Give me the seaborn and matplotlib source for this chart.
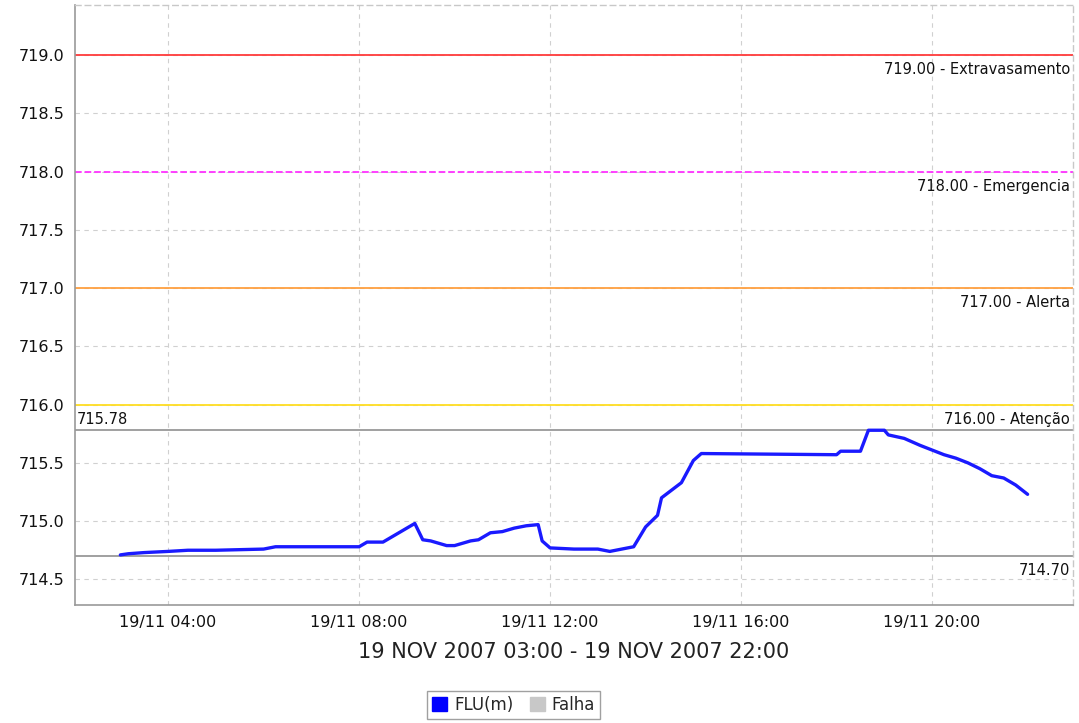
import pandas as pd
import numpy as np
import matplotlib
matplotlib.use("Agg")
import matplotlib.pyplot as plt
import matplotlib.dates as mdates
from matplotlib.patches import Patch
import seaborn as sns

# river level readings, 19 Nov 2007
times = ["03:00", "03:10", "03:30", "04:00", "04:25", "05:00", "06:00", "06:15",
         "07:00", "08:00", "08:10", "08:30", "09:10", "09:20", "09:30", "09:50",
         "10:00", "10:20", "10:30", "10:45", "11:00", "11:15", "11:30", "11:45",
         "11:50", "12:00", "12:30", "13:00", "13:15", "13:30", "13:45", "14:00",
         "14:15", "14:20", "14:45", "15:00", "15:10", "18:00", "18:05", "18:30",
         "18:40", "19:00", "19:05", "19:25", "19:45", "20:15", "20:30", "20:45",
         "21:00", "21:15", "21:30", "21:45", "22:00"]
levels = [714.71, 714.72, 714.73, 714.74, 714.75, 714.75, 714.76, 714.78,
          714.78, 714.78, 714.82, 714.82, 714.98, 714.84, 714.83, 714.79,
          714.79, 714.83, 714.84, 714.90, 714.91, 714.94, 714.96, 714.97,
          714.83, 714.77, 714.76, 714.76, 714.74, 714.76, 714.78, 714.95,
          715.05, 715.20, 715.33, 715.52, 715.58, 715.57, 715.60, 715.60,
          715.78, 715.78, 715.74, 715.71, 715.65, 715.57, 715.54, 715.50,
          715.45, 715.39, 715.37, 715.31, 715.23]

# reference levels
ref_values = [719.0, 718.0, 717.0, 716.0]
ref_labels = ["719.00 - Extravasamento", "718.00 - Emergencia", "717.00 - Alerta", "716.00 - Atenção"]
ref_colors = ["#ff3b3b", "#ff33ff", "#ffa040", "#ffdd22"]
ref_styles = ["-", "--", "-", "-"]
max_level = 715.78
min_level = 714.70

df = pd.DataFrame({"time": pd.to_datetime(["2007-11-19 " + t for t in times]),
                   "level": levels})

sns.set_style("white")
plt.rcParams["font.family"] = ["DejaVu Sans"]

fig = plt.figure(figsize=(10.79, 7.23), dpi=100)
ax = fig.add_axes([0.0695, 0.1632, 0.9249, 0.8299])

ax.grid(True, color="#d0d0d0", linestyle=(0, (4, 4)), linewidth=0.8)

for v, lab, c, ls in zip(ref_values, ref_labels, ref_colors, ref_styles):
    ax.axhline(v, color=c, linestyle=ls, linewidth=1.3, zorder=2)
    ax.annotate(lab, xy=(1, v), xycoords=("axes fraction", "data"),
                xytext=(-2, -5), textcoords="offset points",
                ha="right", va="top", fontsize=10.5, color="#111111")

ax.axhline(max_level, color="#999999", linewidth=1.3, zorder=2)
ax.annotate(f"{max_level:.2f}", xy=(0, max_level), xycoords=("axes fraction", "data"),
            xytext=(1, 2), textcoords="offset points",
            ha="left", va="bottom", fontsize=10.5, color="#111111")
ax.axhline(min_level, color="#999999", linewidth=1.3, zorder=2)
ax.annotate(f"{min_level:.2f}", xy=(1, min_level), xycoords=("axes fraction", "data"),
            xytext=(-2, -5), textcoords="offset points",
            ha="right", va="top", fontsize=10.5, color="#111111")

sns.lineplot(data=df, x="time", y="level", ax=ax, color="#1a1aff",
             linewidth=2.4, zorder=3)

ax.set_xlim(pd.Timestamp("2007-11-19 02:03"), pd.Timestamp("2007-11-19 22:57"))
ax.set_ylim(714.28, 719.43)
ax.set_yticks(np.arange(714.5, 719.01, 0.5))
ax.yaxis.set_major_formatter(matplotlib.ticker.FormatStrFormatter("%.1f"))
ax.xaxis.set_major_locator(mdates.HourLocator(byhour=[4, 8, 12, 16, 20]))
ax.xaxis.set_major_formatter(mdates.DateFormatter("%d/%m %H:%M"))

ax.tick_params(axis="both", which="major", labelsize=11.5, colors="#888888",
               labelcolor="#111111", length=4, width=0.8, direction="out")
ax.set_ylabel("")
ax.set_xlabel("19 NOV 2007 03:00 - 19 NOV 2007 22:00", fontsize=15,
              color="#222222", labelpad=8)

for s in ["top", "right"]:
    ax.spines[s].set_color("#c8c8c8")
    ax.spines[s].set_linestyle((0, (4, 3)))
    ax.spines[s].set_linewidth(1.0)
for s in ["left", "bottom"]:
    ax.spines[s].set_color("#999999")
    ax.spines[s].set_linewidth(1.2)

handles = [Patch(facecolor="#0000ff", edgecolor="#0000ff"),
           Patch(facecolor="#c8c8c8", edgecolor="#c8c8c8")]
leg = fig.legend(handles, ["FLU(m)", "Falha"], loc="center", bbox_to_anchor=(0.476, 0.025),
                 ncol=2, fontsize=12, frameon=True, fancybox=False,
                 handlelength=0.9, handleheight=0.9, handletextpad=0.4,
                 columnspacing=1.0, borderpad=0.3)
leg.get_frame().set_edgecolor("#888888")
leg.get_frame().set_linewidth(1.0)

fig.savefig("out.png", dpi=100)
